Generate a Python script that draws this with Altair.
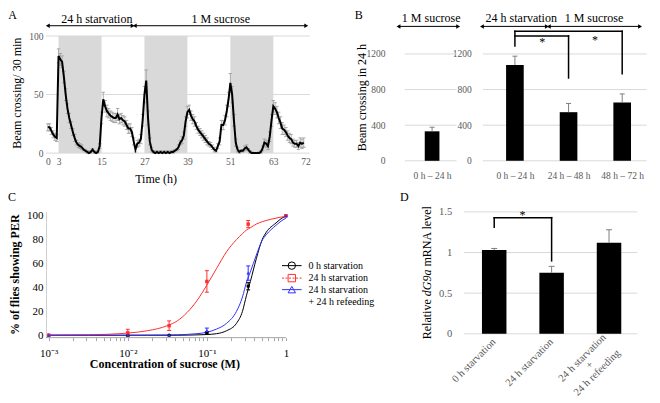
import json
import altair as alt
import pandas as pd

FONT = "Liberation Serif"
GRID = "#d9d9d9"
SHADE = "#d9d9d9"
TICKLAB = "#595959"
ERR_A = "#9a9a9a"
ERR_B = "#7f7f7f"

# ======================= DATA =======================
# Panel A: beam crossings per 30 min (mean and SEM), half-hour bins from 0 h
a_activity = [22, 22, 19, 16, 14, 13,
              83, 80, 78, 65, 50, 38, 30, 24, 18, 13, 9, 7, 6, 5, 3, 2, 1, 0, 1, 3, 1, 0, 1, 6,
              30, 46, 40, 36, 34, 32, 31, 30, 30, 33, 29, 30, 28, 27, 24, 21, 21, 18,
              10, 3, 8, 9, 12, 28,
              50, 62, 30, 10, 3, 1, 0, 1, 0, 1, 0, 1, 0, 1, 0, 1, 1, 2, 3, 5, 9, 11, 15, 27,
              35, 37, 32, 29, 27, 23, 20, 18, 16, 14, 12, 10, 8, 7, 5, 3,
              2, 6, 10, 24, 24, 28, 36, 46,
              60, 50, 28, 9, 3, 1, 2, 2, 4, 5, 3, 1, 0, 0, 0, 0, 0, 1, 4, 9, 8, 6, 14, 28,
              40, 38, 35, 30, 26, 21, 20, 18, 15, 13, 12, 9, 8, 8, 6, 9, 8, 9]
a_sem = [3, 3, 3, 3, 3, 3,
         6, 5, 5, 5, 5, 4, 4, 3, 3, 3, 2, 2, 2, 2, 1, 1, 1, 1, 1, 1, 1, 1, 1, 2,
         5, 6, 5, 5, 4, 4, 4, 4, 4, 5, 4, 4, 4, 4, 4, 4, 4, 4,
         3, 2, 3, 3, 4, 5,
         7, 9, 6, 3, 2, 1, 1, 1, 1, 1, 1, 1, 1, 1, 1, 1, 1, 1, 1, 2, 2, 3, 3, 4,
         5, 4, 4, 4, 4, 3, 3, 3, 3, 3, 3, 3, 2, 2, 2, 2,
         1, 2, 3, 4, 4, 4, 5, 6,
         8, 7, 5, 3, 2, 1, 1, 1, 2, 2, 1, 1, 1, 0, 0, 0, 1, 1, 2, 3, 3, 3, 4, 5,
         5, 5, 5, 5, 5, 5, 4, 4, 4, 4, 4, 3, 3, 3, 3, 4, 4, 4]
a_bin_hours = 0.5
a_dark_start = [3, 27, 51]
a_dark_end = [15, 39, 63]
a_time_ticks = [0, 3, 15, 27, 39, 51, 63, 72]
a_y_ticks = [0, 50, 100]
a_headers = ["24 h starvation", "1 M sucrose"]
a_header_start = [0, 24.3]
a_header_end = [23.7, 72.2]

# Panel B
b_left_cats = ["0 h \u2013 24 h"]
b_left_vals = [331]
b_left_err = [46]
b_right_cats = ["0 h \u2013 24 h", "24 h \u2013 48 h", "48 h \u2013 72 h"]
b_right_vals = [1075, 546, 654]
b_right_err = [100, 98, 97]
b_y_ticks = [0, 400, 800, 1200]

# Panel C
c_series = ["0 h starvation", "24 h starvation", "24 h starvation + 24 h refeeding"]
c_colors = ["#000000", "#ff3030", "#3030ff"]
c_shapes = ["circle", "square", "triangle-up"]
c_conc = [0.001, 0.01, 0.0333, 0.1, 0.333, 1.0]
c_mean = [[0, 0, 0, 2, 41, 100],
          [0, 2, 8, 45, 93, 100],
          [0, 0, 0, 4, 52, 100]]
c_err = [[0, 0, 0, 1, 3, 0],
         [0, 3, 4, 9, 3, 0],
         [0, 0, 0, 2, 6, 0]]
c_fit_conc = [0.001, 0.00316, 0.00562, 0.01, 0.0178, 0.0316, 0.0422, 0.0562, 0.075, 0.1,
              0.133, 0.178, 0.237, 0.282, 0.316, 0.355, 0.422, 0.501, 0.562, 0.75, 0.891, 1.0]
c_fit = [[0, 0, 0, 0, 0, 0, 0, 0.1, 0.3, 0.6, 1.3, 3.8, 10, 20, 33, 45, 64, 80, 86, 94, 98, 99.5],
         [0.1, 0.4, 0.8, 1.8, 3.8, 8, 12, 19, 29, 42, 56, 70, 80, 85, 88, 90, 93, 95, 96, 98, 99, 99.3],
         [0, 0, 0, 0, 0.1, 0.2, 0.4, 0.7, 1.3, 2.5, 5.2, 10, 20, 32, 44, 53, 67, 79.5, 84, 92, 96, 98]]
c_y_ticks = [0, 20, 40, 60, 80, 100]
c_x_ticks = [m * 10.0 ** k for k in (-3, -2, -1) for m in range(1, 10)] + [1.0]

# Panel D
d_cats = ["0 h starvation", "24 h starvation", "24 h starvation\n+\n24 h refeeding"]
d_vals = [1.03, 0.75, 1.12]
d_err = [0.02, 0.08, 0.16]
d_y_ticks = [0, 0.5, 1, 1.5]

# ======================= LAYOUT (reference pixels -> chart pixels) =======================
KX, KY = 0.98, 0.96
def X(r): return (r - 2.0) * KX
def Y(r): return (r - 2.0) * KY

R1T, R1B = 29.0, 159.0
R2T, R2B = 212.0, 343.0
COL2_L = 400.0          # left edge of the right column (panels B and D)
COL2_R = 657.0
COL1_R = 390.0          # right edge of the left column (panels A and C)

# Panel A
A_T0 = 41.0
A_PPH = (304.0 - 41.0) / 72.0
def tA(xr): return (xr - A_T0) / A_PPH
A_VIS = [-0.5, 73.2]
A_L = A_T0 + A_VIS[0] * A_PPH
A_DOM = [A_VIS[0], tA(COL1_R)]
A_Y0 = 151.0
A_PPU = (A_Y0 - 29.0) / 100.0
A_YDOM = [-(R1B - A_Y0) / A_PPU, 100.0]
def vA(yr): return (A_Y0 - yr) / A_PPU

# Panel B (both sub-panels share one x scale in bar-slot units)
B_Y0 = 159.0
B_PPU = (159.0 - 47.7) / 1200.0
B_YDOM = [0.0, (B_Y0 - R1T) / B_PPU]
def vB(yr): return (B_Y0 - yr) / B_PPU
B_PPX = 57.0
BL_L, BL_R, BL_C = 400.0, 455.0, 429.0
BR_L, BR_R, BR_C = 483.0, 657.0, 517.0
def pB(xr): return 1 + (xr - BL_C) / B_PPX
b_left_pos = [1.0 + i for i in range(len(b_left_cats))]
b_right_pos = [pB(BR_C) + i for i in range(len(b_right_cats))]

# Panel C
C_X3 = 42.0
C_PPD = (284.0 - 42.0) / 3.0
C_LMIN = -3.0 - (C_X3 - A_L) / C_PPD
C_LMAX = -3.0 + (COL1_R - C_X3) / C_PPD
C_Y0 = 340.5
C_PPU = (340.5 - 216.0) / 100.0
C_YDOM = [-(R2B - C_Y0) / C_PPU, 100 + (216.0 - R2T) / C_PPU]

# Panel D
D_L, D_R, D_C1, D_PPX = 463.0, 647.0, 495.0, 61.0
D_Y0 = 339.0
D_PPU = (339.0 - 212.0) / 1.5
D_YDOM = [-(R2B - D_Y0) / D_PPU, 1.5]
def pD(xr): return 1 + (xr - D_C1) / D_PPX
def vD(yr): return (D_Y0 - yr) / D_PPU

W1 = X(COL1_R) - X(A_L)
W2 = X(COL2_R) - X(COL2_L)
H1 = Y(R1B) - Y(R1T)
H2 = Y(R2B) - Y(R2T)


def letter(ch, px, py):
    return alt.Chart(pd.DataFrame({"l": [ch]})).mark_text(
        fontSize=12, align="center", baseline="middle", color="black"
    ).encode(x=alt.value(px), y=alt.value(py), text="l:N")


def arrow_layers(df, ex, ey):
    line = alt.Chart(df).mark_rule(color="black", strokeWidth=1).encode(
        x=ex("x0:Q"), x2="x1:Q", y=ey("y:Q"))
    lh = alt.Chart(df).mark_point(shape="triangle-left", filled=True, size=20,
                                  color="black", opacity=1).encode(x=ex("x0:Q"), y=ey("y:Q"))
    rh = alt.Chart(df).mark_point(shape="triangle-right", filled=True, size=20,
                                  color="black", opacity=1).encode(x=ex("x1:Q"), y=ey("y:Q"))
    return [line, lh, rh]


def header_text(df, ex, ey):
    return alt.Chart(df).mark_text(fontSize=12, color="black", baseline="middle").encode(
        x=ex("x:Q"), y=ey("y:Q"), text="text:N")


def pos_label_expr(positions, labels):
    expr = "''"
    for p, lab in reversed(list(zip(positions, labels))):
        expr = f"(abs(datum.value - {p!r}) < 0.01 ? {json.dumps(lab, ensure_ascii=False)} : {expr})"
    return expr


def make_enc(scale_x, axis_x, scale_y, axis_y):
    def ex(f):
        return alt.X(f, scale=scale_x, axis=axis_x)
    def ey(f):
        return alt.Y(f, scale=scale_y, axis=axis_y)
    return ex, ey


# ======================= PANEL A =======================
xsA = alt.Scale(domain=A_DOM, nice=False, zero=False)
ysA = alt.Scale(domain=A_YDOM, nice=False, zero=False)
ax_xA = alt.Axis(values=a_time_ticks, title="Time (h)", grid=False, domain=False, ticks=False,
                 labelColor=TICKLAB, labelFontSize=9.5, labelPadding=Y(154.6) - Y(A_Y0),
                 labelFlush=False, labelOverlap=False, offset=-(Y(R1B) - Y(A_Y0)),
                 titleFontSize=12, titleFontWeight="normal", titleColor="black",
                 titleX=X(151) - X(A_L), titleY=Y(177) - Y(A_Y0),
                 titleAlign="center", titleBaseline="middle")
ax_yA = alt.Axis(values=a_y_ticks, title="Beam crossing/ 30 min", grid=False,
                 domain=False, ticks=False, labelColor=TICKLAB, labelFontSize=9.5,
                 labelPadding=3, labelFlush=False, labelOverlap=False,
                 titleFontSize=12, titleFontWeight="normal", titleColor="black",
                 titleX=X(9.5) - X(A_L), titleY=Y(88) - Y(R1T), titleAngle=270,
                 titleAlign="center", titleBaseline="middle")
exA, eyA = make_enc(xsA, ax_xA, ysA, ax_yA)

a_df = pd.DataFrame({"t": [i * a_bin_hours for i in range(len(a_activity))],
                     "v": a_activity, "e": a_sem})
a_df["lo"] = (a_df["v"] - a_df["e"]).clip(lower=0)
a_df["hi"] = a_df["v"] + a_df["e"]
a_caps = pd.concat([pd.DataFrame({"t": a_df["t"], "y": a_df["lo"]}),
                    pd.DataFrame({"t": a_df["t"], "y": a_df["hi"]})])
dark_df = pd.DataFrame({"s": a_dark_start, "e": a_dark_end,
                        "y0": [0] * len(a_dark_start), "y1": [100] * len(a_dark_start)})
a_grid_df = pd.DataFrame({"y": a_y_ticks, "x0": [A_VIS[0]] * len(a_y_ticks),
                          "x1": [A_VIS[1]] * len(a_y_ticks)})

a_grid = alt.Chart(a_grid_df).mark_rule(color=GRID, strokeWidth=1).encode(
    x=exA("x0:Q"), x2="x1:Q", y=eyA("y:Q"))
a_shade = alt.Chart(dark_df).mark_rect(color=SHADE).encode(
    x=exA("s:Q"), x2="e:Q", y=eyA("y0:Q"), y2="y1:Q")
a_err = alt.Chart(a_df).mark_rule(color=ERR_A, strokeWidth=0.8).encode(
    x=exA("t:Q"), y=eyA("lo:Q"), y2="hi:Q")
a_cap = alt.Chart(a_caps).mark_tick(orient="horizontal", size=3.5, thickness=0.8,
                                    color=ERR_A, opacity=1).encode(x=exA("t:Q"), y=eyA("y:Q"))
a_line = alt.Chart(a_df).mark_line(color="black", strokeWidth=2).encode(
    x=exA("t:Q"), y=eyA("v:Q"))
a_arr_df = pd.DataFrame({"x0": a_header_start, "x1": a_header_end,
                         "y": [vA(18.3)] * len(a_header_start)})
a_hdr_df = pd.DataFrame({"x": [tA(91), tA(217.5)], "y": [vA(11.2)] * 2, "text": a_headers})

chartA = alt.layer(
    a_grid, a_shade, a_err, a_cap, a_line, *arrow_layers(a_arr_df, exA, eyA),
    header_text(a_hdr_df, exA, eyA),
    letter("A", X(5) - X(A_L), Y(7.5) - Y(R1T)),
).properties(width=W1, height=H1)

# ======================= PANEL B =======================
xsB = alt.Scale(domain=[pB(COL2_L), pB(COL2_R)], nice=False, zero=False)
ysB = alt.Scale(domain=B_YDOM, nice=False, zero=False)
all_pos = b_left_pos + b_right_pos
ax_xB = alt.Axis(values=all_pos, labelExpr=pos_label_expr(all_pos, b_left_cats + b_right_cats),
                 title=None, grid=False, domain=False, ticks=False, labelColor=TICKLAB,
                 labelFontSize=9.5, labelPadding=Y(168.6) - Y(B_Y0), labelFlush=False,
                 labelOverlap=False)
ax_yBL = alt.Axis(values=b_y_ticks, format="d", title="Beam crossing in 24 h", grid=False,
                  orient="left", domain=False, ticks=False, labelColor=TICKLAB, labelFontSize=9.5,
                  labelPadding=X(BL_L) - X(385), labelFlush=False, labelOverlap=False,
                  titleFontSize=12, titleFontWeight="normal", titleColor="black",
                  titleX=X(360.8) - X(BL_L), titleY=Y(92.7) - Y(R1T), titleAngle=270,
                  titleAlign="center", titleBaseline="middle")
ax_yBR = alt.Axis(values=b_y_ticks, format="d", title=None, grid=False, orient="left",
                  offset=-(X(BR_L) - X(COL2_L)),
                  domain=False, ticks=False, labelColor=TICKLAB, labelFontSize=9.5,
                  labelPadding=X(BR_L) - X(473), labelFlush=False, labelOverlap=False)
exBL, eyBL = make_enc(xsB, ax_xB, ysB, ax_yBL)
exBR, eyBR = make_enc(xsB, ax_xB, ysB, ax_yBR)


def b_bars(pos, vals, errs, ex, ey, bar_w):
    df = pd.DataFrame({"pos": pos, "v": vals, "e": errs})
    df["top"] = df["v"] + df["e"]
    bar = alt.Chart(df).mark_bar(color="black", size=bar_w).encode(x=ex("pos:Q"), y=ey("v:Q"))
    err = alt.Chart(df).mark_rule(color=ERR_B, strokeWidth=1).encode(
        x=ex("pos:Q"), y=ey("v:Q"), y2="top:Q")
    cap = alt.Chart(df).mark_tick(orient="horizontal", size=5, thickness=1, color=ERR_B,
                                  opacity=1).encode(x=ex("pos:Q"), y=ey("top:Q"))
    return [bar, err, cap]


b_grid_df = pd.DataFrame(
    [{"y": g, "x0": pB(l), "x1": pB(r)} for (l, r) in [(BL_L, BL_R), (BR_L, BR_R)] for g in b_y_ticks])
b_arr = pd.DataFrame({"x0": [pB(393.3), pB(482), pB(553)], "x1": [pB(456.7), pB(551), pB(650)],
                      "y": [vB(19)] * 3})
b_hdr = pd.DataFrame({"x": [pB(428), pB(523.7), pB(601)], "y": [vB(10.5)] * 3,
                      "text": ["1 M sucrose", "24 h starvation", "1 M sucrose"]})
r0, r1, r2 = b_right_pos
b_brk = pd.DataFrame({"x0": [r0, r0, r2, r0, r1], "x1": [r0, r2, r2, r1, r1],
                      "y0": [vB(39.3), vB(24), vB(24), vB(29), vB(29)],
                      "y1": [vB(24), vB(24), vB(68.3), vB(29), vB(72.7)]})
b_star = pd.DataFrame({"x": [pB(546), pB(602)], "y": [vB(35.3), vB(32.7)], "s": ["*", "*"]})

groupBL = alt.layer(
    alt.Chart(b_grid_df).mark_rule(color=GRID, strokeWidth=1).encode(
        x=exBL("x0:Q"), x2="x1:Q", y=eyBL("y:Q")),
    *b_bars(b_left_pos, b_left_vals, b_left_err, exBL, eyBL, 15 * KX),
    *arrow_layers(b_arr, exBL, eyBL), header_text(b_hdr, exBL, eyBL),
    letter("B", X(358) - X(COL2_L), Y(7) - Y(R1T)),
)
groupBR = alt.layer(
    *b_bars(b_right_pos, b_right_vals, b_right_err, exBR, eyBR, 18 * KX),
    alt.Chart(b_brk).mark_rule(color="black", strokeWidth=1.5, strokeCap="square").encode(
        x=exBR("x0:Q"), x2="x1:Q", y=eyBR("y0:Q"), y2="y1:Q"),
    alt.Chart(b_star).mark_text(fontSize=12, color="black", baseline="middle").encode(
        x=exBR("x:Q"), y=eyBR("y:Q"), text="s:N"),
)
chartB = alt.layer(groupBL, groupBR).resolve_axis(y="independent").properties(width=W2, height=H1)

# ======================= PANEL C =======================
xsC = alt.Scale(type="log", domain=[10 ** C_LMIN, 10 ** C_LMAX], nice=False)
ysC = alt.Scale(domain=C_YDOM, nice=False, zero=False)
colC = alt.Color("series:N", scale=alt.Scale(domain=c_series, range=c_colors), legend=None)
c_lab = ("datum.value == 1 ? '1' : datum.value == 0.1 ? '10\u207b\u00b9' : "
         "datum.value == 0.01 ? '10\u207b\u00b2' : datum.value == 0.001 ? '10\u207b\u00b3' : ''")
ax_xC = alt.Axis(values=c_x_ticks, labelExpr=c_lab, title="Concentration of sucrose (M)",
                 grid=False, domain=False, ticks=True, tickColor="#a6a6a6",
                 tickSize=3, labelColor="black", labelFontSize=11,
                 labelPadding=Y(352.9) - Y(R2B) - 3, labelFlush=False, labelOverlap=False,
                 titleFontSize=12, titleFontWeight="bold", titleColor="black",
                 titleX=X(160) - X(A_L), titleY=Y(370) - Y(R2B),
                 titleAlign="center", titleBaseline="middle")
ax_yC = alt.Axis(values=c_y_ticks, title="% of flies showing PER", grid=False, domain=True,
                 domainColor="#d0d0d0", ticks=False, labelColor="black", labelFontSize=11,
                 labelPadding=X(A_L) - X(36), labelFlush=False, labelOverlap=False,
                 titleFontSize=12, titleFontWeight="bold", titleColor="black",
                 titleX=X(7) - X(A_L), titleY=Y(277) - Y(R2T), titleAngle=270,
                 titleAlign="center", titleBaseline="middle")
exC, eyC = make_enc(xsC, ax_xC, ysC, ax_yC)

c_fit_df = pd.DataFrame([{"c": c, "v": v, "series": s}
                         for s, vals in zip(c_series, c_fit) for c, v in zip(c_fit_conc, vals)])
c_pt_df = pd.DataFrame([{"c": c, "v": v, "e": e, "series": s}
                        for s, ms, es in zip(c_series, c_mean, c_err)
                        for c, v, e in zip(c_conc, ms, es)])
c_eb_df = c_pt_df[c_pt_df["e"] > 0].copy()
c_eb_df["lo"] = c_eb_df["v"] - c_eb_df["e"]
c_eb_df["hi"] = c_eb_df["v"] + c_eb_df["e"]
c_cap_df = pd.concat([c_eb_df[["c", "series"]].assign(y=c_eb_df["lo"]),
                      c_eb_df[["c", "series"]].assign(y=c_eb_df["hi"])])
c_base_df = pd.DataFrame({"x0": [10 ** C_LMIN], "x1": [1.0], "y": [C_YDOM[0]]})

c_base = alt.Chart(c_base_df).mark_rule(color="#a6a6a6", strokeWidth=1).encode(
    x=exC("x0:Q"), x2="x1:Q", y=eyC("y:Q"))
c_lines = alt.Chart(c_fit_df).mark_line(strokeWidth=1, interpolate="monotone").encode(
    x=exC("c:Q"), y=eyC("v:Q"), color=colC, detail="series:N")
c_errs = alt.Chart(c_eb_df).mark_rule(strokeWidth=1).encode(
    x=exC("c:Q"), y=eyC("lo:Q"), y2="hi:Q", color=colC)
c_caps = alt.Chart(c_cap_df).mark_tick(orient="horizontal", size=4, thickness=1, opacity=1).encode(
    x=exC("c:Q"), y=eyC("y:Q"), color=colC)
c_pts = alt.Chart(c_pt_df).mark_point(filled=True, size=12, opacity=1).encode(
    x=exC("c:Q"), y=eyC("v:Q"), color=colC,
    shape=alt.Shape("series:N", scale=alt.Scale(domain=c_series, range=c_shapes), legend=None))

# custom legend (line + open marker + label)
c_leg_rows = [268, 281, 293]
c_leg_dash = [None, [2, 1.5], None]
c_legend = []
for i, (s, col, shp) in enumerate(zip(c_series, c_colors, c_shapes)):
    yy = Y(c_leg_rows[i]) - Y(R2T)
    one = pd.DataFrame({"label": [s.split(" + ")[0]]})
    rule_kw = dict(color=col, strokeWidth=1)
    if c_leg_dash[i]:
        rule_kw["strokeDash"] = c_leg_dash[i]
    c_legend.append(alt.Chart(one).mark_rule(**rule_kw).encode(
        x=alt.value(X(280) - X(A_L)), x2=alt.value(X(300) - X(A_L)), y=alt.value(yy)))
    c_legend.append(alt.Chart(one).mark_point(shape=shp, filled=False, size=55, color=col,
                                              strokeWidth=1, opacity=1).encode(
        x=alt.value(X(290) - X(A_L)), y=alt.value(yy)))
    c_legend.append(alt.Chart(one).mark_text(align="left", baseline="middle", fontSize=10,
                                             color="black").encode(
        x=alt.value(X(307) - X(A_L)), y=alt.value(yy), text="label:N"))
extra = pd.DataFrame({"label": ["+ " + c_series[2].split(" + ")[1]]})
c_legend.append(alt.Chart(extra).mark_text(align="left", baseline="middle", fontSize=10,
                                           color="black").encode(
    x=alt.value(X(307) - X(A_L)), y=alt.value(Y(305.5) - Y(R2T)), text="label:N"))

chartC = alt.layer(
    c_base, c_lines, c_errs, c_caps, c_pts, *c_legend,
    letter("C", X(4.5) - X(A_L), Y(196) - Y(R2T)),
).properties(width=W1, height=H2)

# ======================= PANEL D =======================
xsD = alt.Scale(domain=[pD(COL2_L), pD(COL2_R)], nice=False, zero=False)
ysD = alt.Scale(domain=D_YDOM, nice=False, zero=False)
ax_xD = alt.Axis(values=[1, 2, 3], labels=False, title=None, grid=False, domain=False, ticks=False)
ax_yD = alt.Axis(values=d_y_ticks, format="~g", title=None, grid=False, orient="left",
                 offset=-(X(D_L) - X(COL2_L)),
                 domain=False, ticks=False, labelColor=TICKLAB, labelFontSize=10.5,
                 labelPadding=X(D_L) - X(453), labelFlush=False, labelOverlap=False)
exD, eyD = make_enc(xsD, ax_xD, ysD, ax_yD)

D_LABFS = 10.5
D_LINEH = 10.5
d_df = pd.DataFrame({"pos": list(range(1, len(d_cats) + 1)), "v": d_vals, "e": d_err,
                     "cat": d_cats})
d_df["top"] = d_df["v"] + d_df["e"]
d_df["ly"] = vD(346)
d_grid_df = pd.DataFrame({"y": d_y_ticks, "x0": [pD(D_L)] * len(d_y_ticks),
                          "x1": [pD(D_R)] * len(d_y_ticks)})

d_grid = alt.Chart(d_grid_df).mark_rule(color=GRID, strokeWidth=1).encode(
    x=exD("x0:Q"), x2="x1:Q", y=eyD("y:Q"))
d_bar = alt.Chart(d_df).mark_bar(color="black", size=25 * KX).encode(x=exD("pos:Q"), y=eyD("v:Q"))
d_err_l = alt.Chart(d_df).mark_rule(color=ERR_B, strokeWidth=1).encode(
    x=exD("pos:Q"), y=eyD("v:Q"), y2="top:Q")
d_cap = alt.Chart(d_df).mark_tick(orient="horizontal", size=6, thickness=1, color=ERR_B,
                                  opacity=1).encode(x=exD("pos:Q"), y=eyD("top:Q"))
d_brk = pd.DataFrame({"x0": [1, 1, 2], "x1": [1, 2, 2],
                      "y0": [vD(228), vD(218), vD(218)], "y1": [vD(218), vD(218), vD(263)]})
d_brk_l = alt.Chart(d_brk).mark_rule(color="black", strokeWidth=1.5, strokeCap="square").encode(
    x=exD("x0:Q"), x2="x1:Q", y=eyD("y0:Q"), y2="y1:Q")
d_star = alt.Chart(pd.DataFrame({"x": [pD(525)], "y": [vD(215)], "s": ["*"]})).mark_text(
    fontSize=12, color="black", baseline="middle").encode(x=exD("x:Q"), y=eyD("y:Q"), text="s:N")

single = d_df[~d_df["cat"].str.contains("\n")]
multi = d_df[d_df["cat"].str.contains("\n")]
d_lab1 = alt.Chart(single).mark_text(angle=315, align="right", baseline="middle",
                                     fontSize=D_LABFS, color=TICKLAB).encode(
    x=exD("pos:Q"), y=eyD("ly:Q"), text="cat:N")
W_LINE1 = 5.944 * D_LABFS  # width of "24 h starvation"
d_lab2 = alt.Chart(multi).mark_text(angle=315, align="center", baseline="top", fontSize=D_LABFS,
                                    lineBreak="\n", lineHeight=D_LINEH, dx=-W_LINE1 / 2,
                                    dy=-D_LABFS / 2 - D_LINEH * 0.6,
                                    color=TICKLAB).encode(
    x=exD("pos:Q"), y=eyD("ly:Q"), text="cat:N")

# y-axis title with italic gene name
d_tx = X(428) - X(COL2_L)
d_tyc = Y(275) - Y(R2T)
w_rel, w_sp, w_gene, w_rest = 40.0, 3.0, 26.7, 61.0
y_start = d_tyc + (w_rel + w_sp + w_gene + w_sp + w_rest) / 2
d_title = []
for txt, style, yy in [("Relative", "normal", y_start),
                       ("dG9a", "italic", y_start - w_rel - w_sp),
                       ("mRNA level", "normal", y_start - w_rel - w_sp - w_gene - w_sp)]:
    d_title.append(alt.Chart(pd.DataFrame({"t": [txt]})).mark_text(
        angle=270, align="left", baseline="middle", fontSize=12, fontStyle=style,
        color="black").encode(x=alt.value(d_tx), y=alt.value(yy), text="t:N"))

chartD = alt.layer(
    d_grid, d_bar, d_err_l, d_cap, d_brk_l, d_star, d_lab1, d_lab2, *d_title,
    letter("D", X(404.5) - X(COL2_L), Y(196.5) - Y(R2T)),
).properties(width=W2, height=H2)

# ======================= ASSEMBLY =======================
chart = alt.concat(
    chartA, chartB, chartC, chartD,
    columns=2, bounds="flush",
    spacing={"row": Y(R2T) - Y(R1B), "column": X(COL2_L) - X(COL1_R)},
).properties(padding=0).configure(font=FONT).configure_view(stroke=None).configure_axis(
    labelFont=FONT, titleFont=FONT)

chart.save("out.html", embed_options={"renderer": "svg", "actions": False})
